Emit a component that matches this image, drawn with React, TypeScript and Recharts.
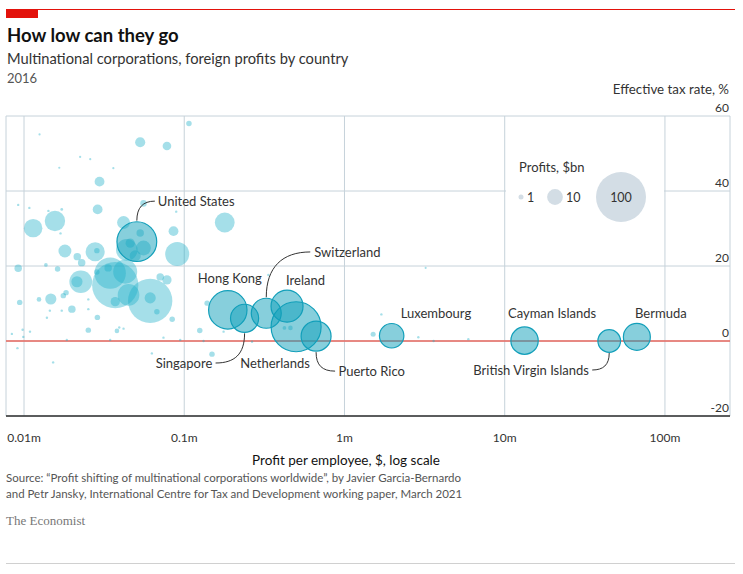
import React from 'react';
import { ScatterChart, Scatter, XAxis, YAxis, ZAxis, CartesianGrid, ReferenceLine } from 'recharts';

// ---------- data ----------
// x: profit per employee ($m), y: effective tax rate (%), z: profits ($bn)
const xTicks = [0.01, 0.1, 1, 10, 100];
const xTickLabels = ['0.01m', '0.1m', '1m', '10m', '100m'];
const yTicks = [-20, 0, 20, 40, 60];

const countryNames = [
  'Netherlands', 'United States', 'Hong Kong', 'Singapore', 'Switzerland', 'Ireland',
  'Puerto Rico', 'Luxembourg', 'Cayman Islands', 'British Virgin Islands', 'Bermuda',
];
const countryProfitPerEmployee = [0.499, 0.0506, 0.187, 0.238, 0.325, 0.438, 0.665, 1.97, 13.3, 44.9, 66.8];
const countryTaxRate = [3.8, 26.5, 8.3, 6.05, 7.4, 9.3, 1.3, 1.4, 0.1, 0.0, 1.1];
const countryProfits = [117, 74, 69, 37, 42, 48, 42, 28, 35, 24, 34];

const otherProfitPerEmployee = [
  0.0125, 0.0531, 0.078, 0.107, 0.0224, 0.0259, 0.0166, 0.0361, 0.0296, 0.0288,
  0.0557, 0.0891, 0.0092, 0.0108, 0.0142, 0.0172, 0.0114, 0.0156, 0.0418, 0.179,
  0.0857, 0.0169, 0.0904, 0.018, 0.0278, 0.0215, 0.0229, 0.0092, 0.0137, 0.0162,
  0.0438, 0.0557, 0.0345, 0.0428, 0.0226, 0.0214, 0.0371, 0.0613, 0.0449, 0.0613,
  0.078, 0.0708, 0.0147, 0.0094, 0.0124, 0.0176, 0.0183, 0.0199, 0.0145, 0.0172,
  0.0139, 0.0252, 0.0252, 0.0287, 0.0252, 0.038, 0.0393, 0.0418, 0.0675, 0.0841,
  0.0371, 0.125, 0.139, 0.149, 0.176, 0.0628, 0.0742, 0.0944, 0.0084, 0.0098,
  0.0099, 0.0109, 0.0091, 0.0152, 0.335, 0.422, 0.46, 1.51, 1.7, 2.89,
  3.6, 5.93, 3.21, 0.0285, 0.0285, 0.0494, 0.0335, 0.0531, 0.046, 0.0185,
  0.0345, 0.132, 0.265,
];
const otherTaxRate = [
  55.1, 53.0, 52.0, 58.0, 49.1, 48.5, 46.2, 46.1, 42.5, 35.1,
  36.7, 34.5, 36.3, 35.5, 34.7, 35.1, 30.1, 32.0, 31.6, 31.6,
  29.3, 28.7, 23.2, 24.0, 23.8, 22.5, 20.9, 19.4, 20.3, 19.2,
  24.3, 24.8, 18.1, 18.5, 15.8, 15.8, 14.9, 10.7, 12.3, 11.5,
  16.3, 17.1, 11.2, 10.3, 11.1, 12.1, 12.9, 8.5, 8.1, 8.1,
  6.2, 8.5, 11.1, 6.3, 2.9, 2.7, 3.6, 3.3, 7.8, 5.8,
  10.5, 2.8, 10.1, -3.5, 2.5, -3.3, 0.9, 0.3, 1.9, 3.0,
  1.1, 2.5, -1.9, -5.7, 17.6, 3.5, 3.5, 1.8, 7.1, 1.0,
  0.0, 0.5, 19.5, 24.1, 18.4, 22.7, 19.5, 28.8, 26.1, 0.3,
  0.3, 0.0, -0.2,
];
const otherProfits = [
  0.23, 4.8, 3.5, 1.4, 0.23, 0.23, 0.23, 0.23, 4.5, 4.5,
  2.0, 0.27, 0.27, 0.27, 0.27, 0.36, 16, 19.4, 7.8, 18.3,
  4.5, 0.27, 27, 7.8, 17, 2.6, 2.6, 2.6, 0.64, 1.4,
  21.9, 10.2, 46, 27, 24.2, 5.8, 100, 92, 21.9, 5.8,
  4, 2.6, 5.8, 1.4, 1.0, 1.4, 1.4, 2.6, 0.27, 0.27,
  0.27, 0.27, 0.27, 1.4, 1.4, 1.0, 0.27, 0.27, 1.4, 1.4,
  4, 1.4, 1.4, 1.4, 0.27, 0.27, 0.27, 0.27, 0.27, 0.27,
  0.27, 0.27, 0.27, 0.27, 0.27, 0.64, 1.0, 1.2, 0.27, 0.27,
  0.27, 0.27, 0.2, 1.4, 1.4, 5.8, 2.6, 2.6, 4, 0.27,
  0.27, 0.27, 0.27,
];

const legendValues = [1, 10, 100];

// ---------- layout / style ----------
const FONT = 'Lato, "Noto Sans", sans-serif';
const X_MIN = 0.00772;
const X_MAX = 254.7;
const Z_MAX = 100;
const MAX_R = 25;
const TEXT = '#333';

const annotations: Record<string, { dx: number; dy: number; anchor: string; leader?: string }> = {
  'United States': { dx: 21, dy: -40.5, anchor: 'start', leader: 'M0,-21 C0,-34 6,-40.5 18,-40.5' },
  'Hong Kong': { dx: 2, dy: -31, anchor: 'middle' },
  'Ireland': { dx: 18.5, dy: -26, anchor: 'middle' },
  'Switzerland': { dx: 48, dy: -61.3, anchor: 'start', leader: 'M0,-16 C0,-46 16,-61.3 44,-61.3' },
  'Singapore': { dx: -32.3, dy: 44.7, anchor: 'end', leader: 'M0,15 C0,36 -10,44.7 -29,44.7' },
  'Netherlands': { dx: -21, dy: 36.3, anchor: 'middle' },
  'Puerto Rico': { dx: 22.3, dy: 35, anchor: 'start', leader: 'M0,16 C0,29 6,35 19,35' },
  'Luxembourg': { dx: 9, dy: -22.7, anchor: 'start' },
  'Cayman Islands': { dx: 27.5, dy: -27.7, anchor: 'middle' },
  'British Virgin Islands': { dx: -20.3, dy: 29, anchor: 'end', leader: 'M0,12 C0,24 -6,29 -17,29' },
  'Bermuda': { dx: 24, dy: -23.7, anchor: 'middle' },
};

const radiusOf = (p: any) => {
  if (p.size != null) return Math.sqrt(Math.max(p.size, 0) / Math.PI);
  return (p.width || 0) / 2;
};

const OtherBubble = (p: any) => (
  <circle cx={p.cx} cy={p.cy} r={radiusOf(p)} fill="#1fb0c8" fillOpacity={0.4} />
);

const CountryBubble = (p: any) => (
  <circle cx={p.cx} cy={p.cy} r={radiusOf(p)} fill="#0f9fba" fillOpacity={0.5} stroke="#129fba" strokeWidth={1.2} />
);

const CountryLabel = (p: any) => {
  const a = annotations[p.payload?.name];
  if (!a) return <g />;
  return (
    <g transform={`translate(${p.cx},${p.cy})`}>
      {a.leader && <path d={a.leader} fill="none" stroke="#333" strokeWidth={1} />}
      <text x={a.dx} y={a.dy + 4.6} textAnchor={a.anchor as any} fontSize={13} fill={TEXT} fontFamily={FONT}>
        {p.payload.name}
      </text>
    </g>
  );
};

const XTick = (p: any) => {
  const v = p.payload?.value;
  let idx = 0;
  xTicks.forEach((t, i) => { if (Math.abs(Math.log10(t) - Math.log10(v)) < 0.01) idx = i; });
  return (
    <text x={p.x} y={p.y + 25.5} textAnchor="middle" fontSize={12} fill={TEXT} fontFamily={FONT}>
      {xTickLabels[idx]}
    </text>
  );
};

const PLOT_RIGHT = 730;
const YTick = (p: any) => (
  <text x={PLOT_RIGHT - 1} y={p.y - 4.5} textAnchor="end" fontSize={12} fill={TEXT} fontFamily={FONT}>
    {p.payload?.value}
  </text>
);

export default function App() {
  const otherData = otherProfitPerEmployee.map((x, i) => ({ x, y: otherTaxRate[i], z: otherProfits[i] }));
  const countryData = countryNames.map((name, i) => ({
    name, x: countryProfitPerEmployee[i], y: countryTaxRate[i], z: countryProfits[i],
  }));
  const legendR = (v: number) => MAX_R * Math.sqrt(v / Z_MAX);

  return (
    <div style={{ position: 'absolute', left: 0, top: 0, width: 743, height: 574, background: '#fff', fontFamily: FONT }}>
      <div style={{ position: 'absolute', left: 0, top: 0 }}>
        <ScatterChart width={743} height={574} margin={{ top: 116, right: 743 - PLOT_RIGHT - 30, bottom: 128, left: 6 }}>
          <CartesianGrid stroke="#c6d2da" strokeWidth={1} />
          <XAxis
            type="number" dataKey="x" scale="log" domain={[X_MIN, X_MAX]} allowDataOverflow
            ticks={xTicks} interval={0} height={30} tickSize={0} tickMargin={0} tickLine={false}
            axisLine={{ stroke: '#2e2e2e', strokeWidth: 1.5 }} tick={XTick}
          />
          <YAxis
            type="number" dataKey="y" orientation="right" domain={[-20, 60]} allowDataOverflow
            ticks={yTicks} interval={0} width={30} tickSize={0} tickMargin={0} tickLine={false}
            axisLine={false} tick={YTick}
          />
          <ZAxis type="number" dataKey="z" domain={[0, Z_MAX]} range={[0, Math.PI * MAX_R * MAX_R]} />
          <ReferenceLine y={0} stroke="#e8685f" strokeWidth={1.3} />
          <Scatter data={otherData} shape={OtherBubble} isAnimationActive={false} />
          <Scatter data={countryData} shape={CountryBubble} isAnimationActive={false} />
          <Scatter data={countryData} shape={CountryLabel} isAnimationActive={false} />
        </ScatterChart>
      </div>
      <svg width={743} height={574} style={{ position: 'absolute', left: 0, top: 0, pointerEvents: 'none' }} fontFamily={FONT}>
        <line x1={6} y1={9.5} x2={735} y2={9.5} stroke="#e3120b" strokeWidth={1} />
        <rect x={6} y={9} width={32} height={9} fill="#e3120b" />
        <text x={7} y={41.5} fontSize={18.5} fontWeight={700} fill="#111">How low can they go</text>
        <text x={7} y={64} fontSize={14.7} fill="#333">Multinational corporations, foreign profits by country</text>
        <text x={7} y={83} fontSize={13} fill="#555">2016</text>
        <text x={729} y={93.5} fontSize={13.3} fill="#333" textAnchor="end">Effective tax rate, %</text>

        <rect x={506} y={148} width={158} height={80} fill="#fff" />
        <text x={519} y={171.5} fontSize={13} fill="#333">Profits, $bn</text>
        <circle cx={521} cy={197} r={legendR(legendValues[0])} fill="#d3dde5" />
        <text x={527} y={201.5} fontSize={12.5} fill="#333">{legendValues[0]}</text>
        <circle cx={555} cy={197} r={legendR(legendValues[1])} fill="#d3dde5" />
        <text x={566} y={201.5} fontSize={12.5} fill="#333">{legendValues[1]}</text>
        <circle cx={621} cy={197} r={legendR(legendValues[2])} fill="#d3dde5" />
        <text x={621} y={201.5} fontSize={12.5} fill="#333" textAnchor="middle">{legendValues[2]}</text>

        <text x={346} y={464.5} fontSize={13.5} fill="#111" textAnchor="middle">Profit per employee, $, log scale</text>
        <text x={6} y={482} fontSize={11.5} fill="#555">Source: “Profit shifting of multinational corporations worldwide”, by Javier Garcia-Bernardo</text>
        <text x={6} y={498} fontSize={11.5} fill="#555">and Petr Jansky, International Centre for Tax and Development working paper, March 2021</text>
        <text x={6} y={525} fontSize={13} fill="#777" fontFamily='"Liberation Serif", "DejaVu Serif", serif'>The Economist</text>
        <line x1={6} y1={563.5} x2={735} y2={563.5} stroke="#d0d0d0" strokeWidth={1} />
      </svg>
    </div>
  );
}
